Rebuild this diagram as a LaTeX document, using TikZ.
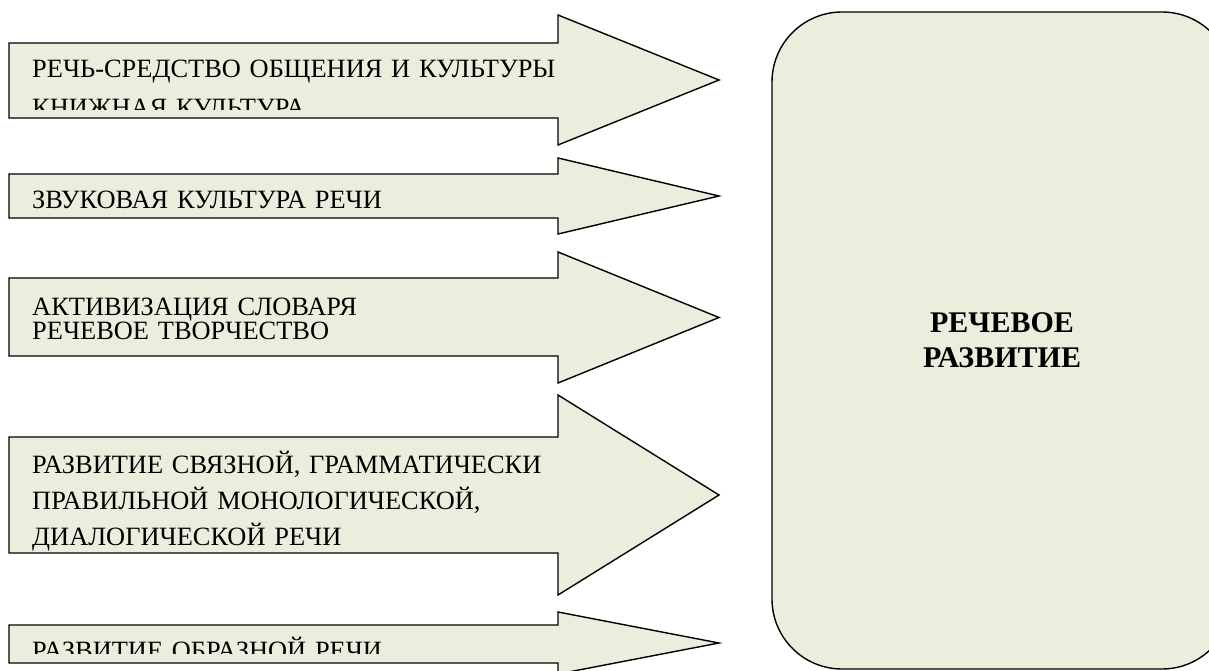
\documentclass[tikz,border=0pt]{standalone}
\usepackage{fontspec}
\setmainfont{Liberation Serif}
\definecolor{pale}{HTML}{EAEEDC}

\begin{document}
\begin{tikzpicture}[x=1pt,y=-1pt,
    shaft/.style={draw=black,fill=pale,line width=1.4pt,line join=miter},
    lbl/.style={anchor=base west,inner sep=0pt,text width=540pt,align=left,
      font=\fontsize{26.4}{#1}\selectfont},
    goal/.style={draw=black,fill=pale,line width=1.4pt,rounded corners=70pt,
      minimum width=460pt,minimum height=657pt,align=center,
      font=\bfseries\fontsize{30}{35}\selectfont}]
    \useasboundingbox (0,0) rectangle (1209,671);
    % target box on the right
    \node [goal] (goal) at (1002,340.5) {РЕЧЕВОЕ\\РАЗВИТИЕ};
    % arrows: head top / body top / body bottom / head bottom / tip / clip / baseline / skip
    \foreach \n/\ht/\bt/\bb/\hb/\tip/\cb/\by/\ls/\txt in {
        a/15/43/118/145/80/110/78/39/{РЕЧЬ-СРЕДСТВО ОБЩЕНИЯ И КУЛЬТУРЫ\\КНИЖНАЯ КУЛЬТУРА},
        b/158/174/218/234/196/212/208/26/{ЗВУКОВАЯ КУЛЬТУРА РЕЧИ},
        c/252/278/356/383/317.5/350/315/24.5/{АКТИВИЗАЦИЯ СЛОВАРЯ\\РЕЧЕВОЕ ТВОРЧЕСТВО},
        d/395/437/553/595/495/552/473/36/{РАЗВИТИЕ СВЯЗНОЙ, ГРАММАТИЧЕСКИ\\ПРАВИЛЬНОЙ МОНОЛОГИЧЕСКОЙ,\\ДИАЛОГИЧЕСКОЙ РЕЧИ},
        e/612/625/663/674/643/653/659/26/{РАЗВИТИЕ ОБРАЗНОЙ РЕЧИ}}
    {
      \draw [shaft] (9,\bt) -- (558,\bt) -- (558,\ht) -- (719,\tip)
            -- (558,\hb) -- (558,\bb) -- (9,\bb) -- cycle;
      \begin{scope}
        \clip (9,\bt) rectangle (558,\cb);
        \node [lbl=\ls] (t\n) at (32,\by) {\txt};
      \end{scope}
    }
\end{tikzpicture}
\end{document}
